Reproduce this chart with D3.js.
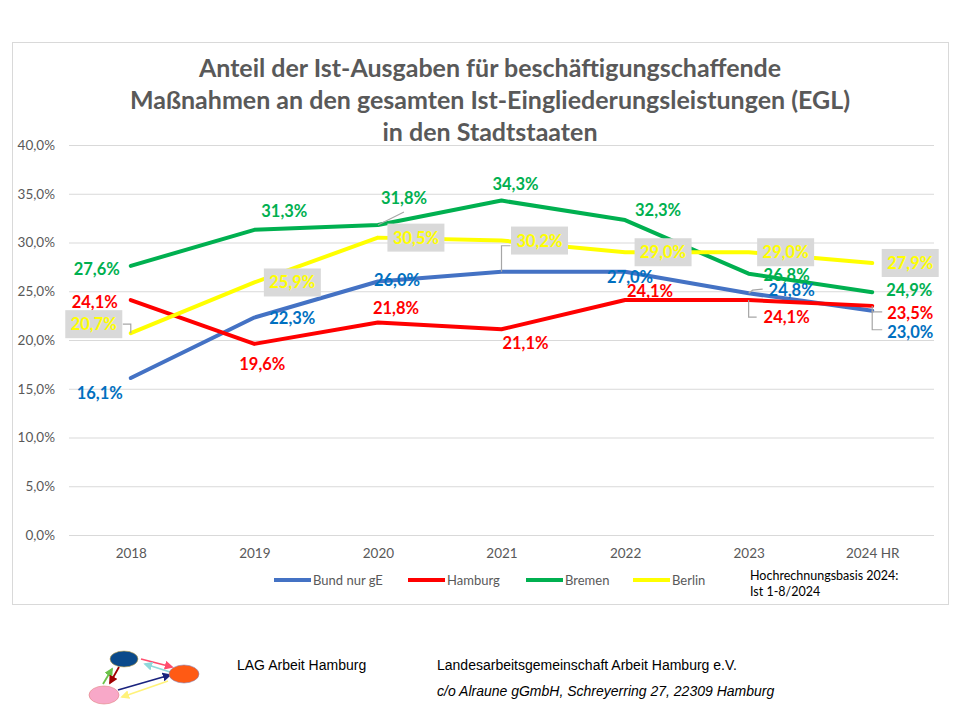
<!DOCTYPE html>
<html><head><meta charset="utf-8">
<script src="https://cdn.jsdelivr.net/npm/d3@7"></script>
<style>body{margin:0;background:#fff}svg{display:block}</style>
</head><body>
<script>
const categories = ["2018","2019","2020","2021","2022","2023","2024 HR"];
const bund = [16.1, 22.3, 26.0, 27.0, 27.0, 24.8, 23.0];
const hamburg = [24.1, 19.6, 21.8, 21.1, 24.1, 24.1, 23.5];
const bremen = [27.6, 31.3, 31.8, 34.3, 32.3, 26.8, 24.9];
const berlin = [20.7, 25.9, 30.5, 30.2, 29.0, 29.0, 27.9];
const yTicks = [0, 5, 10, 15, 20, 25, 30, 35, 40];
const seriesNames = ["Bund nur gE", "Hamburg", "Bremen", "Berlin"];
const titleLines = ["Anteil der Ist-Ausgaben für beschäftigungschaffende",
  "Maßnahmen an den gesamten Ist-Eingliederungsleistungen (EGL)", "in den Stadtstaaten"];

// label placement (pixel offsets from each point)
const offBund = [[-31,15],[38,0],[19,-2],[38,-29],[5,5],[43,-3],[38,21]];
const offHamburg = [[-36,2],[8,20],[18,-14],[24,14],[25,-9],[38,17],[38,7]];
const offBremen = [[-34,3],[30,-19],[26,-27],[14,-17],[33,-10],[38,1],[37,-2]];
const offBerlin = [[-37,-9],[38,0],[38,0],[38,0],[38,0],[37,0],[38,0]];
const leaders = {
  "Bund nur gE": {3: [[0,0],[0,-26],[9,-26]], 5: [[0,0],[4,-3],[14,-4]], 6: [[0,0],[0,19],[10,19]]},
  "Hamburg": {5: [[0,0],[0,17],[8,17]], 6: [[0,0],[0,6],[10,6]]},
  "Bremen": {2: [[0,0],[26,-13]]},
  "Berlin": {0: [[0,0],[0,-9],[-8,-9]]}
};

const series = [
  {name: seriesNames[0], values: bund, color: "#4472C4", labelColor: "#0070C0", off: offBund, box: false},
  {name: seriesNames[1], values: hamburg, color: "#FF0000", labelColor: "#FF0000", off: offHamburg, box: false},
  {name: seriesNames[2], values: bremen, color: "#00B050", labelColor: "#00B050", off: offBremen, box: false},
  {name: seriesNames[3], values: berlin, color: "#FFFF00", labelColor: "#FFFF00", off: offBerlin, box: true}
];

const W = 960, H = 720;
const svg = d3.select("body").append("svg").attr("width", W).attr("height", H)
  .style("font-family", "Lato, 'Open Sans', sans-serif");

svg.append("rect").attr("x", 12.5).attr("y", 42.5).attr("width", 936).attr("height", 562)
  .attr("fill", "#fff").attr("stroke", "#D9D9D9").attr("stroke-width", 1);

const title = svg.append("text").attr("text-anchor", "middle").attr("font-weight", "bold")
  .attr("font-size", 25).attr("fill", "#595959");
titleLines.forEach((t, i) => title.append("tspan").attr("x", 490).attr("y", 77 + i * 32).text(t));

const x = d3.scalePoint().domain(categories).range([69, 934]).padding(0.5);
const y = d3.scaleLinear().domain([0, 40]).range([535, 145]);

// grid
svg.append("g").selectAll("line").data(yTicks).join("line")
  .attr("x1", 69).attr("x2", 934).attr("y1", d => y(d) + 0.5).attr("y2", d => y(d) + 0.5)
  .attr("stroke", "#D9D9D9").attr("stroke-width", 1);

const fmt = v => v.toFixed(1).replace(".", ",") + "%";

const yAxis = d3.axisLeft(y).tickValues(yTicks).tickFormat(fmt).tickSize(0).tickPadding(0);
const gy = svg.append("g").attr("transform", "translate(55,0)").call(yAxis);
gy.select(".domain").remove();
gy.selectAll("text").attr("font-size", 13.5).attr("fill", "#595959").attr("font-family", "Lato, sans-serif");

const xAxis = d3.axisBottom(x).tickSize(0).tickPadding(0);
const gx = svg.append("g").attr("transform", "translate(0,548)").call(xAxis);
gx.select(".domain").remove();
gx.selectAll("text").attr("font-size", 13.5).attr("fill", "#595959").attr("font-family", "Lato, sans-serif");

const line = d3.line().x((d, i) => x(categories[i])).y(d => y(d));
svg.append("g").selectAll("path").data(series).join("path")
  .attr("d", s => line(s.values)).attr("fill", "none").attr("stroke", s => s.color)
  .attr("stroke-width", 4).attr("stroke-linejoin", "round").attr("stroke-linecap", "round");

// leader lines
const lg = svg.append("g");
series.forEach(s => {
  const L = leaders[s.name] || {};
  Object.keys(L).forEach(k => {
    const i = +k, px = x(categories[i]), py = y(s.values[i]);
    lg.append("path").attr("d", d3.line()(L[k].map(p => [px + p[0], py + p[1]])))
      .attr("fill", "none").attr("stroke", "#A6A6A6").attr("stroke-width", 1.2);
  });
});

// labels
const labG = svg.append("g");
series.forEach(s => {
  s.values.forEach((v, i) => {
    const cx = x(categories[i]) + s.off[i][0], cy = y(v) + s.off[i][1];
    if (s.box) {
      labG.append("rect").attr("x", cx - 28.5).attr("y", cy - 14).attr("width", 57).attr("height", 28)
        .attr("fill", "#D9D9D9");
    }
    labG.append("text").attr("x", cx).attr("y", cy).attr("text-anchor", "middle")
      .attr("dominant-baseline", "central").attr("font-weight", "bold").attr("font-size", 16.5)
      .attr("fill", s.labelColor).text(fmt(v));
  });
});

// legend
const legX = [274, 408, 526, 633];
const leg = svg.append("g");
series.forEach((s, i) => {
  leg.append("line").attr("x1", legX[i]).attr("x2", legX[i] + 37).attr("y1", 580).attr("y2", 580)
    .attr("stroke", s.color).attr("stroke-width", 4);
  leg.append("text").attr("x", legX[i] + 39).attr("y", 580).attr("dominant-baseline", "central")
    .attr("font-size", 13).attr("fill", "#595959").text(s.name);
});
svg.append("text").attr("x", 750).attr("y", 580).attr("font-size", 12.5).attr("fill", "#000")
  .text("Hochrechnungsbasis 2024:");
svg.append("text").attr("x", 750).attr("y", 596).attr("font-size", 12.5).attr("fill", "#000")
  .text("Ist 1-8/2024");

// footer
const ff = "'Liberation Sans', Arial, sans-serif";
svg.append("text").attr("x", 237).attr("y", 670).attr("font-family", ff).attr("font-size", 14)
  .attr("fill", "#000").text("LAG Arbeit Hamburg");
svg.append("text").attr("x", 437).attr("y", 670).attr("font-family", ff).attr("font-size", 14)
  .attr("fill", "#000").text("Landesarbeitsgemeinschaft Arbeit Hamburg e.V.");
svg.append("text").attr("x", 437).attr("y", 696).attr("font-family", ff).attr("font-size", 14)
  .attr("font-style", "italic").attr("fill", "#000")
  .text("c/o Alraune gGmbH, Schreyerring 27, 22309 Hamburg");

// logo
const logo = svg.append("g");
const defs = svg.append("defs");
const arrows = [
  {c: "#FF4D6D", a: [141, 659], b: [172, 667]},
  {c: "#8FD9DB", a: [170, 672], b: [145, 664]},
  {c: "#1A237E", a: [118, 690], b: [170, 675]},
  {c: "#FFF27A", a: [168, 681], b: [122, 697]},
  {c: "#6CC24A", a: [103, 684], b: [112, 669]},
  {c: "#A00000", a: [119, 667], b: [110, 683]}
];
arrows.forEach((ar, i) => {
  defs.append("marker").attr("id", "m" + i).attr("viewBox", "0 0 10 10").attr("refX", 8).attr("refY", 5)
    .attr("markerWidth", 5).attr("markerHeight", 5).attr("orient", "auto")
    .append("path").attr("d", "M0,0L10,5L0,10z").attr("fill", ar.c);
  logo.append("line").attr("x1", ar.a[0]).attr("y1", ar.a[1]).attr("x2", ar.b[0]).attr("y2", ar.b[1])
    .attr("stroke", ar.c).attr("stroke-width", 1.8).attr("marker-end", `url(#m${i})`);
});
logo.append("ellipse").attr("cx", 124).attr("cy", 659).attr("rx", 14).attr("ry", 8)
  .attr("fill", "#0B4A8B").attr("stroke", "#C9A64A").attr("stroke-width", 0.6);
logo.append("ellipse").attr("cx", 184).attr("cy", 674).attr("rx", 15).attr("ry", 9)
  .attr("fill", "#FF5A14").attr("stroke", "#8A7FB0").attr("stroke-width", 0.6);
logo.append("ellipse").attr("cx", 104).attr("cy", 695).attr("rx", 15).attr("ry", 9)
  .attr("fill", "#F8A8C8").attr("stroke", "#E08080").attr("stroke-width", 0.6);
</script>
</body></html>
